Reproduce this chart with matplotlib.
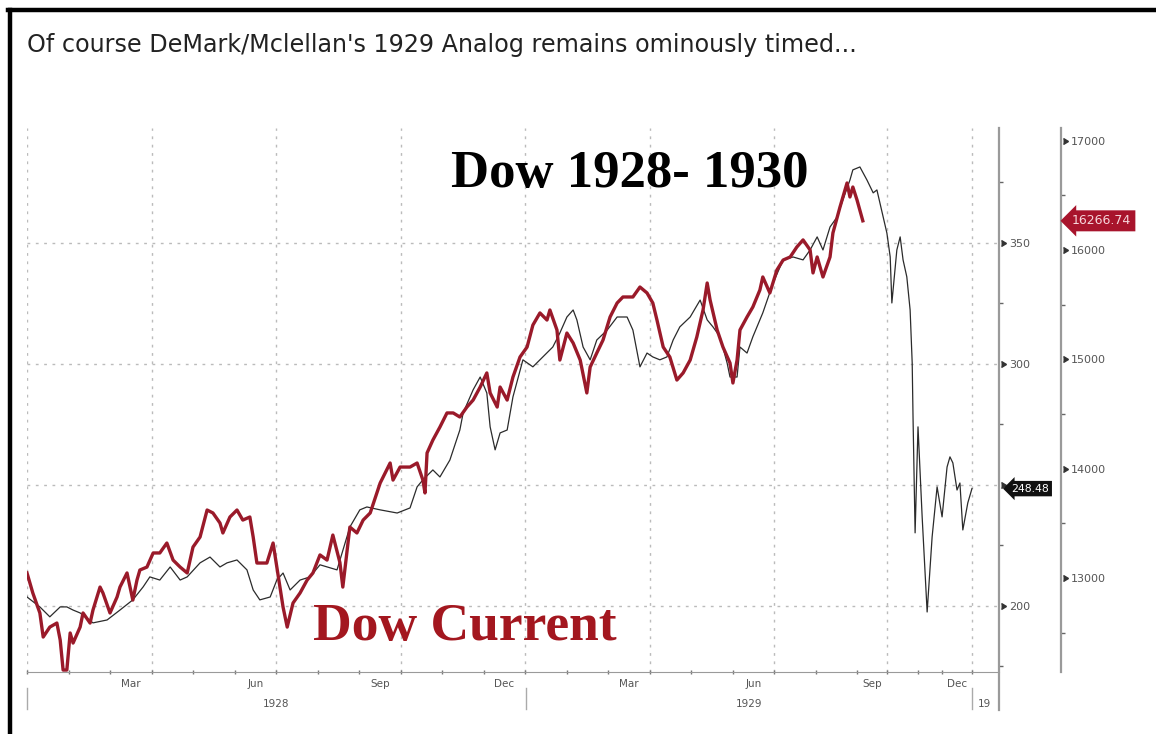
import matplotlib
matplotlib.use('Agg')
import matplotlib.pyplot as plt
from matplotlib import markers
from matplotlib.lines import Line2D

# x axis in month units, 0 = start of Jan 1928 (last months of 1929 are squeezed on the chart)
month_edges = [0, 1, 2, 3, 4, 5, 6, 7, 8, 9, 10, 11, 12, 13, 14, 15, 16, 17, 18, 19, 20,
               20.72, 21.47, 22.05, 22.77]
quarter_edges = [0, 3, 6, 9, 12, 15, 18, 20.72, 22.77]
month_labels = ['Mar', 'Jun', 'Sep', 'Dec', 'Mar', 'Jun', 'Sep', 'Dec']
month_label_pos = [2.5, 5.5, 8.5, 11.5, 14.5, 17.5, 20.36, 22.41]
year_labels = ['1928', '1929', '19']
year_label_pos = [6.0, 17.39, 22.9]
year_edges = [0, 12.02, 22.77]

# Dow 1928-1930 (left scale)
t_old = [0.0, 0.31, 0.55, 0.80, 0.96, 1.11, 1.28, 1.59, 1.93, 2.24, 2.55, 2.80, 2.96, 3.20,
         3.45, 3.69, 3.86, 4.17, 4.41, 4.65, 4.82, 5.06, 5.30, 5.45, 5.61, 5.86, 6.02, 6.17,
         6.34, 6.58, 6.82, 7.06, 7.47, 7.78, 8.02, 8.19, 8.51, 8.92, 9.23, 9.40, 9.54, 9.78,
         9.95, 10.19, 10.43, 10.51, 10.75, 10.92, 11.08, 11.16, 11.28, 11.40, 11.57, 11.71,
         11.95, 12.19, 12.43, 12.67, 12.84, 13.01, 13.16, 13.25, 13.40, 13.57, 13.73, 13.98,
         14.22, 14.46, 14.60, 14.77, 14.94, 15.08, 15.25, 15.42, 15.57, 15.73, 15.98, 16.22,
         16.39, 16.53, 16.70, 16.87, 16.94, 17.11, 17.18, 17.35, 17.49, 17.73, 17.98, 18.22,
         18.46, 18.70, 18.87, 19.04, 19.18, 19.35, 19.52, 19.66, 19.83, 19.90, 20.07, 20.24,
         20.39, 20.48, 20.63, 20.72, 20.80, 20.84, 20.96, 21.04, 21.11, 21.20, 21.28, 21.33,
         21.35, 21.40, 21.47, 21.57, 21.69, 21.81, 21.93, 22.05, 22.17, 22.24, 22.31, 22.41,
         22.48, 22.55, 22.67, 22.77]
dow_old = [203.7, 199.6, 195.5, 199.6, 199.6, 198.3, 197.1, 193.0, 194.2, 198.3, 202.5, 207.9,
           212.0, 210.7, 216.1, 210.7, 212.0, 217.8, 220.2, 216.1, 217.8, 219.0, 214.9, 206.6,
           202.5, 203.7, 210.7, 213.6, 206.6, 210.7, 212.0, 217.0, 214.9, 232.6, 239.7, 240.9,
           239.7, 238.4, 240.5, 249.2, 252.1, 256.2, 253.3, 260.3, 272.7, 279.8, 289.3, 294.6,
           288.0, 274.0, 264.5, 271.5, 272.7, 286.4, 301.7, 298.8, 302.9, 307.0, 312.8, 319.4,
           322.3, 318.2, 307.0, 301.7, 309.9, 314.0, 319.4, 319.4, 314.0, 298.8, 304.5, 302.9,
           301.7, 302.9, 309.9, 315.3, 319.4, 326.4, 318.2, 315.3, 311.2, 300.4, 294.6, 294.6,
           307.0, 304.5, 311.2, 321.1, 333.5, 343.0, 344.2, 343.0, 347.1, 352.5, 347.1, 356.6,
           360.7, 367.8, 376.0, 380.2, 381.4, 376.0, 370.7, 371.9, 360.7, 354.1, 344.2, 325.2,
           347.1, 352.5, 343.0, 336.0, 322.3, 300.4, 278.1, 230.2, 274.0, 236.8, 197.5, 228.5,
           249.2, 236.8, 257.4, 261.6, 259.1, 247.9, 250.8, 231.4, 242.6, 248.48]

# Dow current (right scale)
t_new = [0.0, 0.14, 0.31, 0.39, 0.55, 0.72, 0.80, 0.87, 0.96, 1.04, 1.11, 1.28, 1.35, 1.52,
         1.59, 1.76, 1.83, 2.0, 2.17, 2.24, 2.41, 2.55, 2.65, 2.72, 2.89, 3.04, 3.20, 3.37,
         3.52, 3.69, 3.86, 4.0, 4.17, 4.34, 4.48, 4.65, 4.72, 4.89, 5.06, 5.20, 5.37, 5.45,
         5.54, 5.78, 5.93, 6.02, 6.17, 6.27, 6.41, 6.58, 6.75, 6.89, 7.06, 7.23, 7.37, 7.54,
         7.61, 7.78, 7.95, 8.10, 8.27, 8.51, 8.75, 8.82, 8.99, 9.23, 9.40, 9.54, 9.59, 9.64,
         9.78, 9.95, 10.12, 10.27, 10.43, 10.60, 10.75, 10.92, 11.08, 11.16, 11.33, 11.40,
         11.57, 11.71, 11.88, 12.05, 12.19, 12.36, 12.53, 12.60, 12.77, 12.84, 13.01, 13.16,
         13.33, 13.49, 13.57, 13.73, 13.88, 14.05, 14.22, 14.36, 14.60, 14.77, 14.94, 15.08,
         15.18, 15.33, 15.49, 15.66, 15.81, 15.98, 16.14, 16.29, 16.39, 16.46, 16.63, 16.77,
         16.94, 17.01, 17.11, 17.18, 17.35, 17.49, 17.66, 17.73, 17.90, 18.07, 18.22, 18.39,
         18.55, 18.70, 18.87, 18.94, 19.04, 19.18, 19.35, 19.42, 19.59, 19.76, 19.83, 19.90,
         20.0, 20.14]
dow_new = [13045, 12862, 12679, 12459, 12550, 12587, 12431, 12157, 12157, 12496, 12404, 12550,
           12679, 12587, 12706, 12916, 12862, 12679, 12825, 12916, 13045, 12797, 12980, 13072,
           13099, 13228, 13228, 13319, 13163, 13099, 13045, 13282, 13374, 13621, 13594, 13502,
           13411, 13557, 13621, 13529, 13557, 13374, 13136, 13136, 13319, 13099, 12733, 12550,
           12770, 12862, 12980, 13045, 13210, 13163, 13392, 13140, 12916, 13465, 13411, 13529,
           13594, 13868, 14051, 13895, 14014, 14014, 14051, 13895, 13777, 14143, 14261, 14380,
           14509, 14509, 14472, 14563, 14627, 14746, 14875, 14692, 14563, 14746, 14627, 14838,
           15021, 15112, 15313, 15424, 15359, 15451, 15268, 14993, 15240, 15149, 14993, 14692,
           14929, 15058, 15176, 15387, 15515, 15570, 15570, 15661, 15607, 15515, 15359, 15112,
           15021, 14810, 14875, 14993, 15204, 15451, 15698, 15543, 15268, 15112, 14966, 14783,
           14993, 15268, 15387, 15478, 15634, 15753, 15607, 15817, 15908, 15936, 16027, 16092,
           16000, 15790, 15936, 15753, 15936, 16156, 16393, 16613, 16485, 16576, 16458, 16266.74]

left_ticks = [200, 250, 300, 350]
left_ticklabels = ['200', '', '300', '350']
left_minor = [175, 225, 275, 325, 375]
right_ticks = [13000, 14000, 15000, 16000, 17000]
right_minor = [12500, 13500, 14500, 15500, 16500]

red = '#9a1a2a'
grey = '#9a9a9a'
W, H = 1156, 734

fig = plt.figure(figsize=(W / 100, H / 100), dpi=100)
fig.patch.set_facecolor('white')

# frame of the screenshot
fig.add_artist(Line2D([8 / W, 1], [1 - 10 / H, 1 - 10 / H], color='black', lw=3.2))
fig.add_artist(Line2D([10 / W, 10 / W], [0, 1 - 10 / H], color='black', lw=3.2))

fig.text(27 / W, 1 - 45 / H, "Of course DeMark/Mclellan's 1929 Analog remains ominously timed...",
         fontsize=17.2, color='#222222', va='center', ha='left', family='DejaVu Sans')

ax = fig.add_axes([27 / W, (H - 672) / H, (999 - 27) / W, (672 - 128) / H])
ax.set_xlim(0, (999 - 27) / 41.5)
ax.set_ylim(172.7, 397.5)

ax.plot(t_old, dow_old, color='#2b2b2b', lw=0.9, zorder=3)

for s in ['top', 'left']:
    ax.spines[s].set_visible(False)
ax.spines['bottom'].set_color(grey)
ax.spines['right'].set_color(grey)
ax.spines['right'].set_linewidth(1.6)
ax.spines['right'].set_bounds(157, 397.5)

ax.set_xticks(month_label_pos)
ax.set_xticklabels(month_labels)
ax.set_xticks(month_edges, minor=True)
ax.tick_params(axis='x', which='major', length=0, pad=5, labelsize=7.5, labelcolor='#555555')
ax.tick_params(axis='x', which='minor', length=3, width=1, direction='inout', color='#777777')

ax.grid(axis='y', which='major', color='#bbbbbb', ls=(0, (2, 4)), lw=1)
for q in quarter_edges:
    ax.axvline(q, color='#bbbbbb', ls=(0, (2, 4)), lw=1, zorder=1)

for y in year_edges:
    ax.axvline(y, ymin=-0.068, ymax=-0.03, color='#aaaaaa', lw=1, clip_on=False)
for lab, x in zip(year_labels, year_label_pos):
    ax.text(x, -0.058, lab, transform=ax.get_xaxis_transform(), fontsize=7.5,
            color='#555555', ha='center' if len(lab) > 2 else 'left', va='center')

ax.text(0.62, 0.892, 'Dow 1928- 1930', transform=ax.transAxes, ha='center', va='baseline',
        fontsize=38, fontweight='bold', family='Liberation Serif', color='black')
ax.text(0.45, 0.058, 'Dow Current', transform=ax.transAxes, ha='center', va='baseline',
        fontsize=38.5, fontweight='bold', family='Liberation Serif', color='#a3171f')

# current Dow on its own scale
ax2 = ax.twinx()
ax2.set_ylim(12139, 17116)
ax2.plot(t_new, dow_new, color=red, lw=2.4, zorder=4)
for s in ['top', 'left', 'bottom']:
    ax2.spines[s].set_visible(False)
x_sp = (1061 - 27) / (999 - 27)
ax2.spines['right'].set_position(('axes', x_sp))
ax2.spines['right'].set_color(grey)
ax2.spines['right'].set_linewidth(1.6)
ax2.set_yticks(right_ticks)
ax2.set_yticks(right_minor, minor=True)
ax2.tick_params(axis='y', which='major', length=0, pad=7, labelsize=8, labelcolor='#555555')
ax2.tick_params(axis='y', which='minor', length=3, width=1, color='#666666')
for v in right_ticks:
    ax2.plot(x_sp + 0.002, v, marker=markers.CARETRIGHTBASE, ms=5, color='#333333',
             transform=ax2.get_yaxis_transform(), clip_on=False)
ax2.annotate('16266.74', xy=(x_sp, 16266.74), xycoords=('axes fraction', 'data'),
             xytext=(8, 0), textcoords='offset points', ha='left', va='center',
             color='#f6d6db', fontsize=9,
             bbox=dict(boxstyle='larrow,pad=0.32', fc='#a8142c', ec='none'), zorder=5)

# left scale sits on the right of the plot (twinx moved it to the left)
ax.yaxis.tick_right()
ax.set_yticks(left_ticks)
ax.set_yticklabels(left_ticklabels)
ax.set_yticks(left_minor, minor=True)
ax.tick_params(axis='y', which='major', left=False, right=True, labelleft=False,
               labelright=True, length=0, pad=7, labelsize=8, labelcolor='#555555')
ax.tick_params(axis='y', which='minor', left=False, right=True, length=3, width=1,
               color='#666666')
for v in left_ticks:
    ax.plot(1.002, v, marker=markers.CARETRIGHTBASE, ms=5, color='#333333',
            transform=ax.get_yaxis_transform(), clip_on=False)
ax.annotate('248.48', xy=(1.0, 248.48), xycoords=('axes fraction', 'data'),
            xytext=(9, 0), textcoords='offset points', ha='left', va='center',
            color='white', fontsize=7.8,
            bbox=dict(boxstyle='larrow,pad=0.25', fc='#111111', ec='none'), zorder=5)

fig.savefig('out.png', dpi=100)
